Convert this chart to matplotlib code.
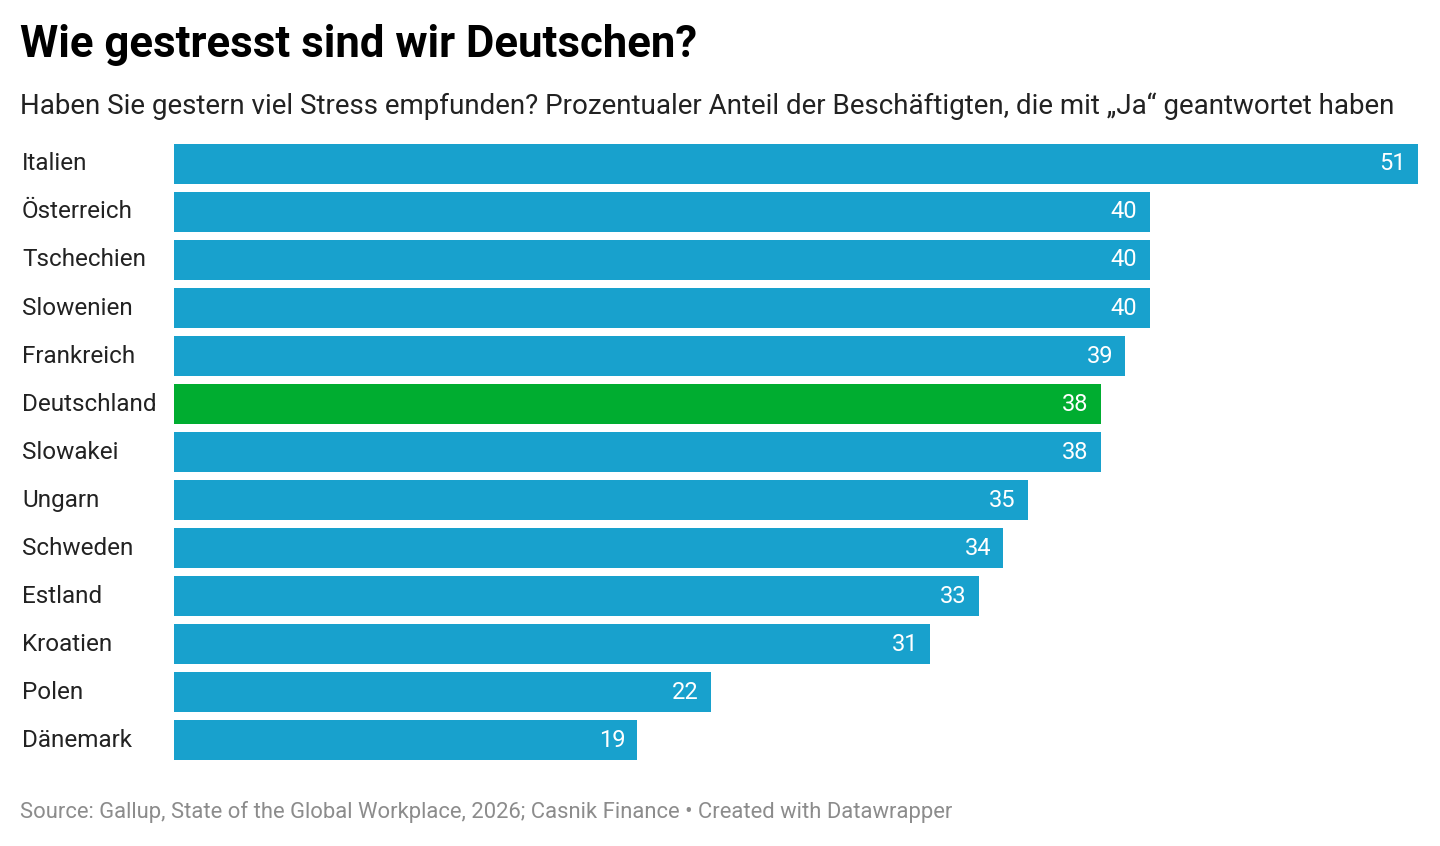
import matplotlib
matplotlib.use("Agg")
import matplotlib.pyplot as plt

countries = ["Italien","Österreich","Tschechien","Slowenien","Frankreich","Deutschland","Slowakei","Ungarn","Schweden","Estland","Kroatien","Polen","Dänemark"]
values = [51,40,40,40,39,38,38,35,34,33,31,22,19]
highlight = "Deutschland"

plt.rcParams['font.family'] = ['Roboto', 'DejaVu Sans']
W, H = 1440, 846
fig = plt.figure(figsize=(W/100, H/100), dpi=100)
ax = fig.add_axes([174/W, (H-764)/H, (1418-174)/W, (764-140)/H])
n = len(values)
ys = list(range(n))
colors = ["#00ad30" if c == highlight else "#18a1cd" for c in countries]
ax.barh(ys, values, height=40/48, color=colors)
ax.set_ylim(n-1+24/48, -24/48)
ax.set_xlim(0, 51)
ax.axis("off")
for y, v, c in zip(ys, values, countries):
    ax.text(v - 0.5, y, str(v), ha="right", va="center", color="white", fontsize=17)
    ax.text(-152/1244*51, y, c, ha="left", va="center", color="#222222", fontsize=17.5)

fig.text(20/W, 1-45/H, "Wie gestresst sind wir Deutschen?", fontsize=31.5, fontweight="bold", va="center", ha="left")
fig.text(20/W, 1-106/H, "Haben Sie gestern viel Stress empfunden? Prozentualer Anteil der Beschäftigten, die mit „Ja“ geantwortet haben",
         fontsize=20, va="center", ha="left", color="#222222")
fig.text(20/W, 1-812/H, "Source: Gallup, State of the Global Workplace, 2026; Casnik Finance • Created with Datawrapper",
         fontsize=15.8, va="center", ha="left", color="#8c8c8c")
fig.savefig("out.png", dpi=100, facecolor="white")
